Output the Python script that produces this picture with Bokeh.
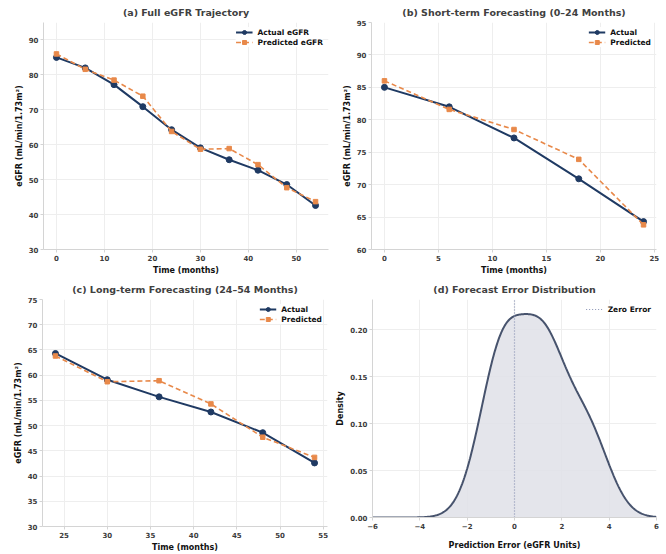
import numpy as np
from bokeh.plotting import figure
from bokeh.layouts import column, row
from bokeh.models import FixedTicker, NumeralTickFormatter, Range1d, Legend, LegendItem
from bokeh.embed import file_html
from bokeh.resources import INLINE

# ---- data ----
months = [0, 6, 12, 18, 24, 30, 36, 42, 48, 54]
actual = [85.0, 82.0, 77.2, 70.9, 64.3, 59.1, 55.7, 52.7, 48.6, 42.6]
predicted = [86.0, 81.6, 78.5, 73.9, 63.8, 58.7, 58.9, 54.3, 47.7, 43.7]

titles = ["(a) Full eGFR Trajectory", "(b) Short-term Forecasting (0\u201324 Months)",
          "(c) Long-term Forecasting (24\u201354 Months)", "(d) Forecast Error Distribution"]

NAVY = "#1f3a63"
ORANGE = "#e8894a"
FONT = "DejaVu Sans"
W, H = 333, 277


def style(p, title):
    p.title.text = title
    p.title.text_font = FONT
    p.title.text_font_size = "9.5px"
    p.title.text_font_style = "bold"
    p.title.text_color = "#404040"
    p.title.align = "center"
    p.title.standoff = 9
    p.outline_line_color = None
    p.xgrid.grid_line_color = "#eeeeee"
    p.ygrid.grid_line_color = "#eeeeee"
    for ax in list(p.xaxis) + list(p.yaxis):
        ax.axis_line_color = "#d4d4d4"
        ax.axis_line_width = 1
        ax.major_tick_line_color = "#d4d4d4"
        ax.minor_tick_line_color = None
        ax.major_tick_out = 3
        ax.major_tick_in = 0
        ax.major_label_text_font = FONT
        ax.major_label_text_font_size = "7px"
        ax.major_label_text_font_style = "bold"
        ax.major_label_text_color = "#3c3c3c"
        ax.major_label_standoff = 2
        ax.axis_label_text_font = FONT
        ax.axis_label_text_font_size = "8px"
        ax.axis_label_text_font_style = "bold"
        ax.axis_label_text_color = "#111111"
        ax.axis_label_standoff = 2


def legend_style(p):
    lg = p.legend[0]
    lg.location = "top_right"
    lg.border_line_color = None
    lg.background_fill_alpha = 0.9
    lg.label_text_font = FONT
    lg.label_text_font_size = "7.5px"
    lg.label_text_font_style = "bold"
    lg.label_text_color = "#111111"
    lg.glyph_width = 17
    lg.glyph_height = 10
    lg.label_height = 10
    lg.label_standoff = 5
    lg.spacing = 0
    lg.padding = 4
    lg.margin = 5


def traj(xs, ya, yp, xr, yr, xticks, yticks, title, la, lp, borders):
    p = figure(width=W, height=H, output_backend="svg", toolbar_location=None,
               x_range=Range1d(*xr), y_range=Range1d(*yr))
    p.min_border_left, p.min_border_right, p.min_border_top, p.min_border_bottom = borders
    style(p, title)
    p.line(xs, ya, line_color=NAVY, line_width=2, legend_label=la)
    p.scatter(xs, ya, marker="circle", size=6, color=NAVY, legend_label=la)
    p.line(xs, yp, line_color=ORANGE, line_width=1.6, line_dash="5 3", legend_label=lp)
    p.scatter(xs, yp, marker="square", size=4.5, color=ORANGE, legend_label=lp)
    p.xaxis.ticker = FixedTicker(ticks=xticks)
    p.yaxis.ticker = FixedTicker(ticks=yticks)
    p.xaxis.axis_label = "Time (months)"
    p.yaxis.axis_label = "eGFR (mL/min/1.73m\u00b2)"
    legend_style(p)
    return p


pa = traj(months, actual, predicted, (-2.7, 56.7), (30, 95),
          list(range(0, 51, 10)), list(range(30, 91, 10)), titles[0],
          "Actual eGFR", "Predicted eGFR", (43, 5, 22, 26))

s_m = [m for m in months if m <= 24]
s_a = [a for m, a in zip(months, actual) if m <= 24]
s_p = [v for m, v in zip(months, predicted) if m <= 24]
pb = traj(s_m, s_a, s_p, (-1.2, 25.2), (60, 95),
          list(range(0, 26, 5)), list(range(60, 96, 5)), titles[1],
          "Actual", "Predicted", (38, 10, 22, 26))

l_m = [m for m in months if m >= 24]
l_a = [a for m, a in zip(months, actual) if m >= 24]
l_p = [v for m, v in zip(months, predicted) if m >= 24]
pc = traj(l_m, l_a, l_p, (22.5, 55.5), (30, 75),
          list(range(25, 56, 5)), list(range(30, 76, 5)), titles[2],
          "Actual", "Predicted", (42, 6, 22, 28))

# ---- error KDE ----
errors = np.array(predicted) - np.array(actual)
n = len(errors)
bw = errors.std(ddof=1) * n ** (-1 / 5)
grid = np.linspace(-6, 6, 400)
dens = np.exp(-0.5 * ((grid[:, None] - errors[None, :]) / bw) ** 2).sum(axis=1) / (n * bw * np.sqrt(2 * np.pi))

pd_ = figure(width=W, height=H, output_backend="svg", toolbar_location=None,
             x_range=Range1d(-6, 6), y_range=Range1d(0, 0.232))
pd_.min_border_left, pd_.min_border_right, pd_.min_border_top, pd_.min_border_bottom = (39, 10, 22, 37)
style(pd_, titles[3])
pd_.varea(x=grid, y1=np.zeros_like(grid), y2=dens, fill_color="#dfe1e7", fill_alpha=0.85)
pd_.line(grid, dens, line_color="#47536d", line_width=2)
zl = pd_.line([0, 0], [0, 0.232], line_color="#8791b3", line_width=1.2, line_dash="1 2")
pd_.add_layout(Legend(items=[LegendItem(label="Zero Error", renderers=[zl])]))
legend_style(pd_)
pd_.xaxis.ticker = FixedTicker(ticks=[-6, -4, -2, 0, 2, 4, 6])
pd_.xaxis.major_label_overrides = {-6: "\u22126", -4: "\u22124", -2: "\u22122", 0: "0", 2: "2", 4: "4", 6: "6"}
pd_.xaxis.axis_label_standoff = 9
pd_.yaxis.ticker = FixedTicker(ticks=[0, 0.05, 0.10, 0.15, 0.20])
pd_.yaxis.formatter = NumeralTickFormatter(format="0.00")
pd_.xaxis.axis_label = "Prediction Error (eGFR Units)"
pd_.yaxis.axis_label = "Density"

layout = column(row(column(pa), column(pb)), row(column(pc), column(pd_)))
open("out.html", "w").write(file_html(layout, INLINE))
